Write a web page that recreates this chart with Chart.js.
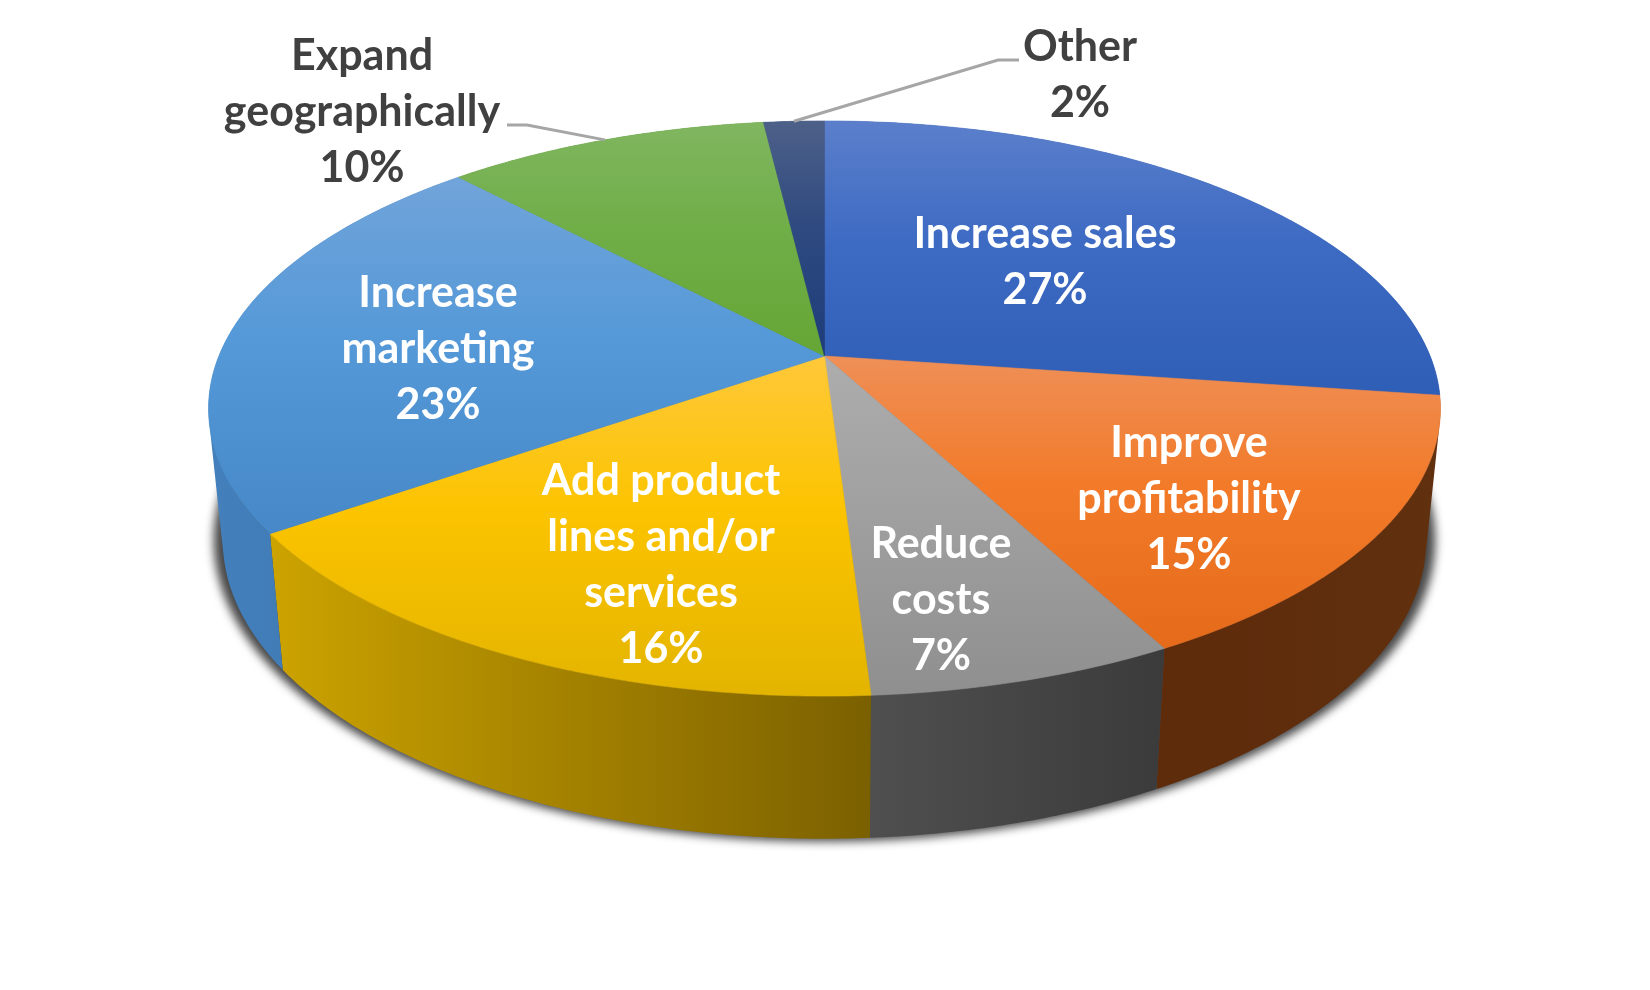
<!DOCTYPE html>
<html>
<head>
<meta charset="utf-8">
<style>
  html, body { margin: 0; background: #fff; }
  canvas { display: block; }
</style>
<script src="https://cdn.jsdelivr.net/npm/chart.js@4/dist/chart.umd.min.js"></script>
</head>
<body>
<canvas id="pie" width="1650" height="990"></canvas>
<script>
const categories = ['Increase sales', 'Improve profitability', 'Reduce costs', 'Add product lines and/or services', 'Increase marketing', 'Expand geographically', 'Other'];
// slice sizes; they round to the printed percentages
const shares = [27.2, 15.0, 6.8, 16.3, 22.7, 10.1, 1.9];
const labelLines = [['Increase sales'], ['Improve', 'profitability'], ['Reduce', 'costs'], ['Add product', 'lines and/or', 'services'], ['Increase', 'marketing'], ['Expand', 'geographically'], ['Other']];

// face gradient per slice, top to bottom
const faceLight = ['#5b7fcb', '#ef8f57', '#adadad', '#ffc83a', '#71a4da', '#80b660', '#4d6088'];
const faceMid = ['#3d6ac3', '#f27a28', '#a0a0a0', '#fcc400', '#5599d8', '#70ae48', '#2f4a80'];
const faceDark = ['#2f5eb6', '#e56b1b', '#8f8f8f', '#e3b400', '#4688c8', '#65a635', '#1d3c7a'];
// wall gradient per slice, left to right
const wallLeft = ['#2a4f96', '#5e2b0b', '#4f4f4f', '#cca300', '#4380bc', '#4a7a2a', '#1d3c7a'];
const wallRight = ['#2a4f96', '#60300f', '#3b3b3b', '#7b6000', '#3a72a8', '#4a7a2a', '#1d3c7a'];

// label centre x, first line y
const labelSpots = [[1045, 234], [1189, 443], [941, 544], [661, 481], [438, 293], [362, 56], [1080, 47]];
const labelColors = ['#fff', '#fff', '#fff', '#fff', '#fff', '#404040', '#404040'];
// elbow and end of the leader lines (slices with outside labels)
const leaders = { 5: [[527, 125], [507, 125]], 6: [[998, 60], [1019, 60]] };

const LINE_H = 56;
const PERSP = 0.1826;
const BX = 605.6, AY = 278;   // top face radii before perspective
const WALL = { sx: 0.977, sy: 1.04, dy: 129 };

// circle angle -> screen, level 0 = top face, 1 = bottom face
function project(arc, a, level) {
    const den = 1 - PERSP * Math.sin(a);
    const x = BX * Math.cos(a) / den;
    const y = AY * Math.sin(a) / den;
    if (level === 0) return [arc.x + x, arc.y + y];
    return [arc.x + x * WALL.sx, arc.y + WALL.dy + y * WALL.sy];
}

function arcPoints(arc, from, to, level) {
    const pts = [];
    const n = Math.max(2, Math.ceil((to - from) / 0.01));
    for (let i = 0; i <= n; i++) pts.push(project(arc, from + (to - from) * i / n, level));
    return pts;
}

function tracePath(ctx, pts) {
    ctx.beginPath();
    pts.forEach((p, i) => i ? ctx.lineTo(p[0], p[1]) : ctx.moveTo(p[0], p[1]));
    ctx.closePath();
}

const pie3d = {
    id: 'pie3d',
    beforeDatasetDraw(chart) {
        const ctx = chart.ctx;
        const arcs = chart.getDatasetMeta(0).data;
        const first = arcs[0];

        // soft shadow under the base, a bit bigger than the base itself
        ctx.save();
        const base = arcPoints(first, 0, Math.PI * 2, 1);
        const midY = first.y + WALL.dy;
        ctx.filter = 'blur(5px)';
        ctx.fillStyle = '#484848';
        tracePath(ctx, base.map(p => [first.x + (p[0] - first.x) * 1.015, midY + (p[1] - midY) * 1.008]));
        ctx.fill();
        ctx.restore();

        // walls: one path of small quads per slice, all wound the same way
        arcs.forEach((arc, i) => {
            const top = arcPoints(arc, arc.startAngle, arc.endAngle, 0);
            const bottom = arcPoints(arc, arc.startAngle, arc.endAngle, 1);
            const xs = top.concat(bottom).map(p => p[0]);
            const g = ctx.createLinearGradient(Math.min(...xs), 0, Math.max(...xs), 0);
            g.addColorStop(0, wallLeft[i]);
            g.addColorStop(1, wallRight[i]);
            ctx.beginPath();
            for (let s = 0; s < top.length - 1; s++) {
                const q = [top[s], top[s + 1], bottom[s + 1], bottom[s]];
                let area = 0;
                q.forEach((p, n) => { const o = q[(n + 1) % 4]; area += p[0] * o[1] - o[0] * p[1]; });
                if (area < 0) q.reverse();
                ctx.moveTo(q[0][0], q[0][1]);
                q.slice(1).forEach(p => ctx.lineTo(p[0], p[1]));
                ctx.closePath();
            }
            ctx.fillStyle = g;
            ctx.fill();
        });

        // top faces
        arcs.forEach((arc, i) => {
            const pts = [[arc.x, arc.y]].concat(arcPoints(arc, arc.startAngle, arc.endAngle, 0));
            const ys = pts.map(p => p[1]);
            const g = ctx.createLinearGradient(0, Math.min(...ys), 0, Math.max(...ys));
            g.addColorStop(0, faceLight[i]);
            g.addColorStop(0.45, arc.options.backgroundColor);
            g.addColorStop(1, faceDark[i]);
            tracePath(ctx, pts);
            ctx.fillStyle = g;
            ctx.strokeStyle = g;
            ctx.lineWidth = 0.6;
            ctx.fill();
            ctx.stroke();
        });

        // leader lines
        ctx.strokeStyle = '#a6a6a6';
        ctx.lineWidth = 3;
        Object.keys(leaders).forEach(k => {
            const arc = arcs[k];
            const start = project(arc, (arc.startAngle + arc.endAngle) / 2, 0);
            ctx.beginPath();
            ctx.moveTo(start[0], start[1]);
            leaders[k].forEach(p => ctx.lineTo(p[0], p[1]));
            ctx.stroke();
        });

        // labels
        ctx.font = '700 43px Lato';
        ctx.textAlign = 'center';
        ctx.textBaseline = 'middle';
        categories.forEach((name, i) => {
            const lines = labelLines[i].concat(Math.round(shares[i]) + '%');
            ctx.fillStyle = labelColors[i];
            lines.forEach((line, j) => ctx.fillText(line, labelSpots[i][0], labelSpots[i][1] + j * LINE_H));
        });

        return false; // the native flat arcs are replaced by the above
    }
};

new Chart(document.getElementById('pie'), {
    type: 'pie',
    data: {
        labels: categories,
        datasets: [{ data: shares, backgroundColor: faceMid, borderWidth: 0 }]
    },
    options: {
        responsive: false,
        animation: false,
        layout: { padding: { top: 0, bottom: 278, left: 0, right: 1 } },
        plugins: { legend: { display: false }, tooltip: { enabled: false } }
    },
    plugins: [pie3d]
});
</script>
</body>
</html>
